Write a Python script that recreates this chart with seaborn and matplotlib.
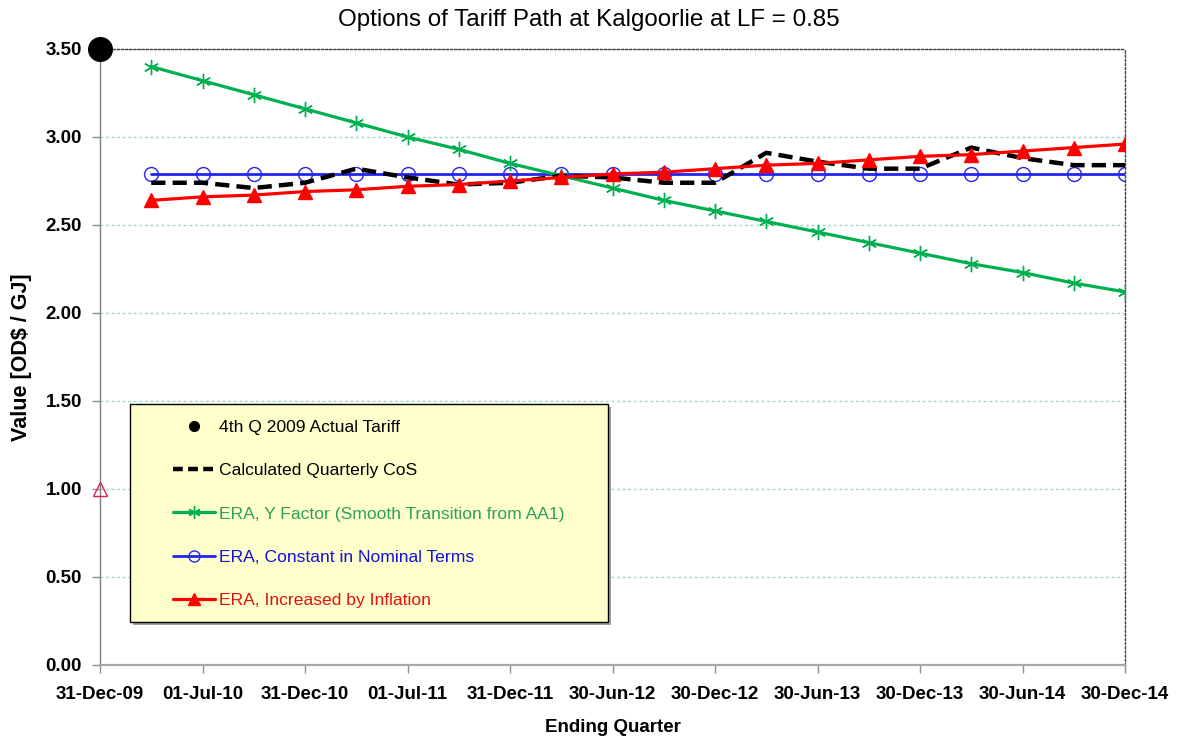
import matplotlib
matplotlib.use("Agg")
import matplotlib.pyplot as plt
from matplotlib.lines import Line2D
from matplotlib.patches import Rectangle
import seaborn as sns

# quarter index (0 = 31-Dec-09), series start at quarter 1
quarters = list(range(1, 21))
tick_pos = list(range(0, 21, 2))
tick_labels = ["31-Dec-09", "01-Jul-10", "31-Dec-10", "01-Jul-11", "31-Dec-11",
               "30-Jun-12", "30-Dec-12", "30-Jun-13", "30-Dec-13", "30-Jun-14",
               "30-Dec-14"]

cos_quarterly = [2.74, 2.74, 2.71, 2.74, 2.82, 2.77, 2.73, 2.74, 2.78, 2.77,
                 2.74, 2.74, 2.91, 2.86, 2.82, 2.82, 2.94, 2.88, 2.84, 2.84]
y_factor = [3.40, 3.32, 3.24, 3.16, 3.08, 3.00, 2.93, 2.85, 2.78, 2.71,
            2.64, 2.58, 2.52, 2.46, 2.40, 2.34, 2.28, 2.23, 2.17, 2.12]
constant_nominal = [2.79] * 20
inflation = [2.64, 2.66, 2.67, 2.69, 2.70, 2.72, 2.73, 2.75, 2.77, 2.79,
             2.80, 2.82, 2.84, 2.85, 2.87, 2.89, 2.90, 2.92, 2.94, 2.96]

actual_q, actual_val = 0, 3.50
marker_q, marker_val = 0, 1.00

labels = ["4th Q 2009 Actual Tariff", "Calculated Quarterly CoS",
          "ERA, Y Factor (Smooth Transition from AA1)",
          "ERA, Constant in Nominal Terms", "ERA, Increased by Inflation"]

GREEN = "#00B050"
BLUE = "#2424F0"
RED = "#FF0000"

sns.set_theme(style="white")
plt.rcParams["font.family"] = ["Liberation Sans", "DejaVu Sans"]
plt.rcParams["text.color"] = "black"
plt.rcParams["axes.labelcolor"] = "black"

fig = plt.figure(figsize=(11.78, 7.38), dpi=100)
ax = fig.add_axes([0.08489, 0.09892, 0.87012, 0.83469])

sns.lineplot(x=quarters, y=constant_nominal, ax=ax, color=BLUE, lw=2.0,
             marker="o", markersize=10, mfc="none", mec=BLUE, mew=1.0, zorder=3)
sns.lineplot(x=quarters, y=y_factor, ax=ax, color=GREEN, lw=2.3,
             marker=(6, 2, 0), markersize=11, mec=GREEN, mew=1.0, zorder=4)
sns.lineplot(x=quarters, y=cos_quarterly, ax=ax, color="black", lw=3.2,
             linestyle=(0, (3.2, 1.6)), zorder=5)
sns.lineplot(x=quarters, y=inflation, ax=ax, color=RED, lw=2.3,
             marker="^", markersize=10.5, mfc=RED, mec=RED, mew=1.0, zorder=6)

ax.plot([actual_q], [actual_val], "o", color="black", markersize=17,
        clip_on=False, zorder=10)
ax.plot([marker_q], [marker_val], "^", mfc="none", mec="#E0204A", mew=1.0,
        markersize=10, clip_on=False, zorder=10)

ax.set_xlim(0, 20)
ax.set_ylim(0, 3.5)
ax.set_xticks(tick_pos)
ax.set_xticklabels(tick_labels)
ax.set_yticks([i * 0.5 for i in range(8)])
ax.set_yticklabels([f"{i * 0.5:.2f}" for i in range(8)])
ax.tick_params(axis="both", direction="out", length=6, width=1, color="#909090",
               labelsize=13.5, bottom=True, left=True, labelcolor="black")
ax.tick_params(axis="x", pad=9)
ax.tick_params(axis="y", pad=7)
for lab in ax.get_xticklabels() + ax.get_yticklabels():
    lab.set_fontweight("bold")

ax.yaxis.grid(True, linestyle=(0, (2, 2)), color="#9ED8BE", lw=1.0)
ax.xaxis.grid(False)
ax.set_axisbelow(True)

ax.spines["left"].set_color("#808080")
ax.spines["left"].set_linewidth(1.0)
ax.spines["bottom"].set_color("#A8A8A8")
ax.spines["bottom"].set_linewidth(1.6)
for side in ["top", "right"]:
    ax.spines[side].set_linestyle((0, (1.5, 1.5)))
    ax.spines[side].set_color("#404040")
    ax.spines[side].set_linewidth(1.0)

ax.set_xlabel("Ending Quarter", fontsize=13.5, fontweight="bold", color="black")
ax.set_ylabel("Value [OD$ / GJ]", fontsize=15.5, fontweight="bold", color="black")
ax.xaxis.set_label_coords(0.5, -0.0877)
ax.yaxis.set_label_coords(-0.0663, 0.5)
fig.suptitle("Options of Tariff Path at Kalgoorlie at LF = 0.85", fontsize=17.4,
             x=0.5, y=0.973, va="center", color="black")

# legend box with shadow
ax.add_patch(Rectangle((0.0323, 0.0648), 0.4663, 0.3539, transform=ax.transAxes,
                       facecolor="#A0A0A0", edgecolor="none", zorder=7, clip_on=False))
ax.add_patch(Rectangle((0.0293, 0.0698), 0.4663, 0.3539, transform=ax.transAxes,
                       facecolor="#FFFFCC", edgecolor="black", lw=1.0, zorder=8,
                       clip_on=False))

handles = [
    Line2D([], [], ls="none", marker="o", color="black", markersize=7),
    Line2D([], [], color="black", lw=3.2, linestyle=(0, (2.2, 1.2))),
    Line2D([], [], color=GREEN, lw=2.3, marker=(6, 2, 0), markersize=9, mec=GREEN, mew=1.0),
    Line2D([], [], color=BLUE, lw=2.0, marker="o", markersize=8, mfc="none", mec=BLUE, mew=1.0),
    Line2D([], [], color=RED, lw=2.3, marker="^", markersize=8, mfc=RED, mec=RED),
]
leg = ax.legend(handles, labels, loc="upper left", bbox_to_anchor=(0.0712, 0.398),
                frameon=False, fontsize=12.6, handlelength=2.4, handletextpad=0.25,
                labelspacing=1.6, borderpad=0, borderaxespad=0)
leg.set_zorder(9)
text_colors = ["black", "black", "#2E9E5A", "#1010E0", "#E01010"]
for t, c in zip(leg.get_texts(), text_colors):
    t.set_color(c)

fig.savefig("out.png", dpi=100)
